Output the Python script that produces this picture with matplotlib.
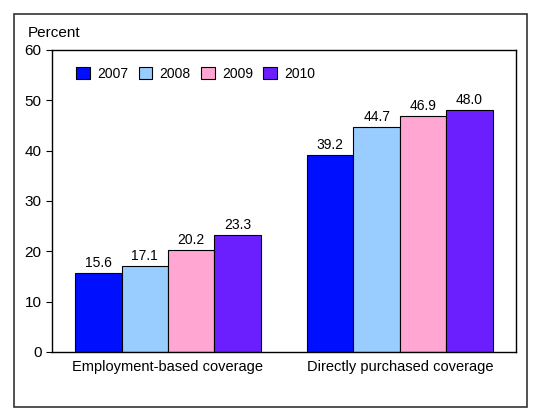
import numpy as np
import matplotlib
matplotlib.use('Agg')
import matplotlib.pyplot as plt
from matplotlib.patches import Rectangle

plt.rcParams['font.family'] = ['Liberation Sans', 'DejaVu Sans']

categories = ['Employment-based coverage', 'Directly purchased coverage']
years = ['2007', '2008', '2009', '2010']
values = {
    '2007': [15.6, 39.2],
    '2008': [17.1, 44.7],
    '2009': [20.2, 46.9],
    '2010': [23.3, 48.0],
}
colors = ['#0010FF', '#99CCFF', '#FFA6D2', '#6B1FFF']

fig = plt.figure(figsize=(5.6, 4.2), dpi=100)
ax = fig.add_axes([0.093, 0.162, 0.828, 0.719])

# outer frame around the whole chart
fig.patches.append(Rectangle((0.025, 0.031), 0.916, 0.936, transform=fig.transFigure,
                             fill=False, edgecolor='#333333', linewidth=1.2))

x = np.arange(len(categories))
w = 0.2
for i, yr in enumerate(years):
    pos = x + (i - 1.5) * w
    bars = ax.bar(pos, values[yr], w, color=colors[i], edgecolor='black',
                  linewidth=0.8, label=yr)
    for b, v in zip(bars, values[yr]):
        ax.text(b.get_x() + b.get_width() / 2, v + 0.6, f'{v:.1f}',
                ha='center', va='bottom', fontsize=10)

ax.set_xlim(-0.5, 1.5)
ax.set_ylim(0, 60)
ax.set_yticks(range(0, 61, 10))
ax.set_xticks(x)
ax.set_xticklabels(categories, fontsize=10.5)
ax.tick_params(axis='x', length=0, pad=6)
ax.tick_params(axis='y', labelsize=11, length=4, direction='out')
for s in ax.spines.values():
    s.set_linewidth(1.0)

fig.text(0.05, 0.905, 'Percent', fontsize=11, ha='left', va='bottom')

ax.legend(loc='upper left', ncol=4, frameon=False, fontsize=10,
          handlelength=1.0, handleheight=1.0, columnspacing=0.75,
          handletextpad=0.5, bbox_to_anchor=(0.025, 0.985))

fig.savefig('out.png', dpi=100)
